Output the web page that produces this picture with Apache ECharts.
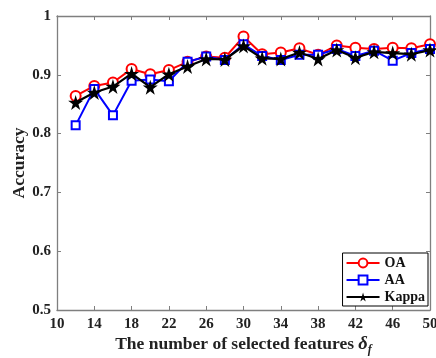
<!DOCTYPE html>
<html><head><meta charset="utf-8">
<script src="https://cdn.jsdelivr.net/npm/echarts@6/dist/echarts.min.js"></script>
<style>html,body{margin:0;padding:0;background:#fff}#c{width:436px;height:358px}</style>
</head><body><div id="c"></div>
<script>
const categories = ['10','12','14','16','18','20','22','24','26','28','30','32','34','36','38','40','42','44','46','48','50'];
const oa    = ['-',0.864,0.881,0.887,0.910,0.901,0.908,0.922,0.931,0.929,0.965,0.935,0.938,0.945,0.934,0.950,0.946,0.944,0.946,0.945,0.952];
const aa    = ['-',0.814,0.876,0.831,0.890,0.892,0.889,0.922,0.931,0.925,0.952,0.932,0.925,0.934,0.934,0.944,0.932,0.941,0.924,0.937,0.944];
const kappa = ['-',0.853,0.870,0.880,0.902,0.879,0.901,0.914,0.927,0.926,0.949,0.928,0.927,0.938,0.927,0.942,0.929,0.939,0.937,0.935,0.942];
const yTicks = {min:0.5, max:1, step:0.1};

const FONT = '"Liberation Serif","Times New Roman",serif';
const AX = '#7f7f7f';
const star = 'path://M50,0 L61,35 L98,35 L68,57 L79,91 L50,70 L21,91 L32,57 L2,35 L39,35 Z';

const chart = echarts.init(document.getElementById('c'), null, {renderer:'canvas'});
const baseX = {
  type:'category', data:categories, boundaryGap:false,
  axisLine:{show:true, lineStyle:{color:AX, width:1.3}},
  axisTick:{show:true, inside:true, length:4, interval:1, lineStyle:{color:AX}},
  splitLine:{show:false}
};
const baseY = {
  type:'value', min:yTicks.min, max:yTicks.max, interval:yTicks.step,
  axisLine:{show:true, lineStyle:{color:AX, width:1.3}},
  axisTick:{show:true, inside:true, length:4, lineStyle:{color:AX}},
  splitLine:{show:false}
};
chart.setOption({
  animation:false,
  grid:{left:57, right:6, top:16, bottom:48, containLabel:false, outerBoundsMode:'none'},
  xAxis:[
    Object.assign({}, baseX, {
      position:'bottom',
      axisLabel:{interval:1, color:'#222', fontFamily:FONT, fontWeight:'bold', fontSize:15, margin:7},
      name:'{t|The number of selected features }{d|δ}{s|f}',
      nameLocation:'middle', nameGap:22, nameMoveOverlap:false,
      nameTextStyle:{rich:{
        t:{fontFamily:FONT, fontWeight:'bold', fontSize:17.5, color:'#222'},
        d:{fontFamily:FONT, fontWeight:'bold', fontStyle:'italic', fontSize:18.5, color:'#222'},
        s:{fontFamily:FONT, fontWeight:'bold', fontStyle:'italic', fontSize:12, color:'#222', padding:[12,0,0,0]}
      }}
    }),
    Object.assign({}, baseX, {position:'top', axisLabel:{show:false}})
  ],
  yAxis:[
    Object.assign({}, baseY, {
      position:'left',
      axisLabel:{color:'#222', fontFamily:FONT, fontWeight:'bold', fontSize:15, margin:6},
      name:'Accuracy', nameLocation:'middle', nameGap:29, nameRotate:90, nameMoveOverlap:false,
      nameTextStyle:{fontFamily:FONT, fontWeight:'bold', fontSize:17.5, color:'#222'}
    }),
    Object.assign({}, baseY, {position:'right', axisLabel:{show:false}})
  ],
  legend:{
    orient:'vertical', right:8, top:253,
    itemWidth:33, itemHeight:11, itemGap:3,
    padding:[3,3,2,3],
    borderColor:'#000', borderWidth:1, backgroundColor:'#fff',
    textStyle:{fontFamily:FONT, fontWeight:'bold', fontSize:14, color:'#111'},
    data:['OA','AA','Kappa']
  },
  series:[
    {name:'OA', type:'line', data:oa, symbol:'emptyCircle', symbolSize:10, showAllSymbol:true, z:2,
     lineStyle:{color:'#ff0000', width:2}, itemStyle:{color:'#ff0000', borderWidth:2}},
    {name:'AA', type:'line', data:aa, symbol:'emptyRect', symbolSize:8, showAllSymbol:true, z:3,
     lineStyle:{color:'#0000ff', width:2}, itemStyle:{color:'#0000ff', borderWidth:2}},
    {name:'Kappa', type:'line', data:kappa, symbol:star, symbolSize:15, showAllSymbol:true, z:4,
     lineStyle:{color:'#000', width:2.2}, itemStyle:{color:'#000'}}
  ]
});
</script></body></html>
